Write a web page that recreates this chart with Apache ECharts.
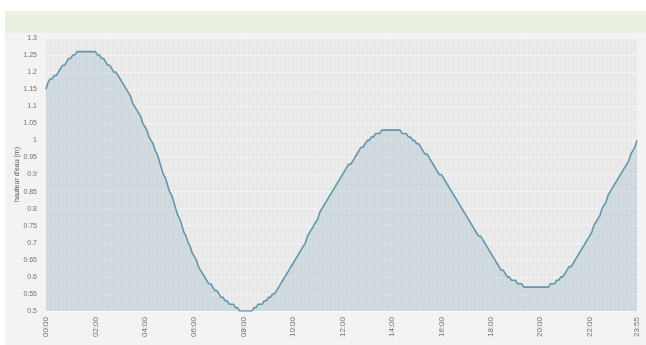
<!DOCTYPE html>
<html>
<head>
<meta charset="utf-8">
<script src="https://cdn.jsdelivr.net/npm/echarts@6/dist/echarts.min.js"></script>
<style>
html,body{margin:0;padding:0;background:#ffffff;width:646px;height:345px;overflow:hidden;}
#banner{position:absolute;left:5px;top:11px;width:641px;height:22px;background:#eaf1e3;}
#panel{position:absolute;left:5px;top:33px;width:641px;height:312px;background:#f3f3f3;}
#chart{position:absolute;left:0;top:0;width:646px;height:345px;}
</style>
</head>
<body>
<div id="banner"></div>
<div id="panel"></div>
<div id="chart"></div>
<script>
// 5-minute time steps 00:00 .. 23:55
const times = [];
for (let h = 0; h < 24; h++) {
  for (let m = 0; m < 60; m += 5) {
    times.push(String(h).padStart(2, '0') + ':' + String(m).padStart(2, '0'));
  }
}
const yTicks = [0.5, 0.55, 0.6, 0.65, 0.7, 0.75, 0.8, 0.85, 0.9, 0.95, 1, 1.05, 1.1, 1.15, 1.2, 1.25, 1.3];
const axisName = "hauteur d'eau (m)";

// water height (m)
const heights = [
  1.15,1.17,1.18,1.18,1.19,1.19,1.20,1.21,1.22,1.22,1.23,1.24,
  1.24,1.25,1.25,1.26,1.26,1.26,1.26,1.26,1.26,1.26,1.26,1.26,
  1.26,1.25,1.25,1.24,1.24,1.23,1.22,1.22,1.21,1.20,1.20,1.19,
  1.18,1.17,1.16,1.15,1.14,1.13,1.11,1.10,1.09,1.08,1.07,1.05,
  1.04,1.03,1.01,1.00,0.99,0.97,0.96,0.94,0.92,0.90,0.89,0.87,
  0.85,0.84,0.82,0.80,0.78,0.77,0.75,0.73,0.72,0.70,0.69,0.67,
  0.66,0.65,0.63,0.62,0.61,0.60,0.59,0.58,0.58,0.57,0.56,0.56,
  0.55,0.54,0.54,0.53,0.53,0.52,0.52,0.52,0.51,0.51,0.50,0.50,
  0.50,0.50,0.50,0.50,0.50,0.51,0.51,0.52,0.52,0.52,0.53,0.53,
  0.54,0.54,0.55,0.55,0.56,0.57,0.58,0.59,0.60,0.61,0.62,0.63,
  0.64,0.65,0.66,0.67,0.68,0.69,0.70,0.72,0.73,0.74,0.75,0.76,
  0.77,0.79,0.80,0.81,0.82,0.83,0.84,0.85,0.86,0.87,0.88,0.89,
  0.90,0.91,0.92,0.93,0.93,0.94,0.95,0.96,0.97,0.98,0.98,0.99,
  1.00,1.00,1.01,1.01,1.02,1.02,1.02,1.03,1.03,1.03,1.03,1.03,
  1.03,1.03,1.03,1.03,1.03,1.02,1.02,1.02,1.01,1.01,1.00,1.00,
  0.99,0.99,0.98,0.97,0.96,0.96,0.95,0.94,0.93,0.92,0.91,0.90,
  0.90,0.89,0.88,0.87,0.86,0.85,0.84,0.83,0.82,0.81,0.80,0.79,
  0.78,0.77,0.76,0.75,0.74,0.73,0.72,0.72,0.71,0.70,0.69,0.68,
  0.67,0.66,0.65,0.64,0.63,0.62,0.62,0.61,0.60,0.60,0.59,0.59,
  0.59,0.58,0.58,0.58,0.57,0.57,0.57,0.57,0.57,0.57,0.57,0.57,
  0.57,0.57,0.57,0.57,0.57,0.58,0.58,0.58,0.59,0.59,0.60,0.60,
  0.61,0.62,0.63,0.63,0.64,0.65,0.66,0.67,0.68,0.69,0.70,0.71,
  0.72,0.73,0.75,0.76,0.77,0.78,0.80,0.81,0.82,0.84,0.85,0.86,
  0.87,0.88,0.89,0.90,0.91,0.92,0.93,0.94,0.96,0.97,0.98,1.00
];

const chart = echarts.init(document.getElementById('chart'), null, {renderer: 'canvas'});
const lastIdx = times.length - 1;
chart.setOption({
  backgroundColor: 'transparent',
  animation: false,
  grid: {
    left: 46, right: 9, top: 38, bottom: 34,
    containLabel: false,
    outerBoundsMode: 'none',
    show: true, backgroundColor: '#ebebeb', borderWidth: 0
  },
  xAxis: {
    type: 'category',
    data: times,
    boundaryGap: false,
    axisLine: {show: false},
    axisTick: {show: false},
    axisLabel: {
      rotate: 90,
      fontSize: 8,
      color: '#707070',
      fontFamily: 'Liberation Sans',
      margin: 6,
      interval: function (i) { return i % 24 === 0 || i === lastIdx; }
    },
    splitLine: {
      show: true,
      interval: 1,
      lineStyle: {color: '#e6e6e6', width: 1}
    }
  },
  yAxis: {
    type: 'value',
    min: 0.5, max: 1.3, interval: 0.05,
    name: axisName,
    nameLocation: 'middle',
    nameGap: 25,
    nameMoveOverlap: false,
    nameTextStyle: {fontSize: 7, color: '#555', fontFamily: 'Liberation Sans'},
    axisLine: {show: false},
    axisTick: {show: false},
    axisLabel: {
      fontSize: 7, color: '#707070', fontFamily: 'Liberation Sans', margin: 9,
      formatter: function (v) { return String(Math.round(v * 100) / 100); }
    },
    splitLine: {lineStyle: {color: '#f8f8f8', width: 1}}
  },
  series: [{
    type: 'line',
    data: heights,
    showSymbol: false,
    symbol: 'none',
    lineStyle: {color: '#6496ab', width: 1.6},
    areaStyle: {color: 'rgba(120,160,185,0.32)'}
  }]
});
</script>
</body>
</html>
